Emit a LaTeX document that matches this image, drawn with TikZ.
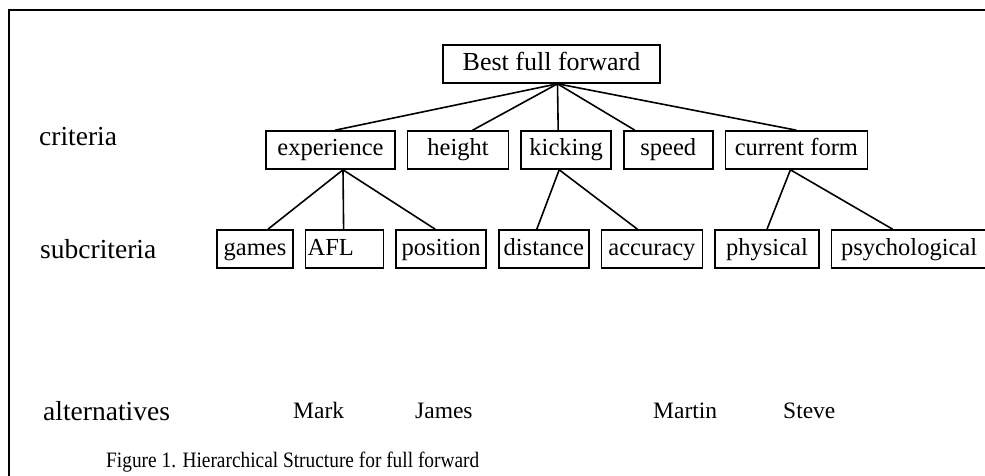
\documentclass[tikz,border=0pt]{standalone}
\usepackage{fontspec}
\setmainfont{Liberation Serif}
\newfontfamily\capfont[FakeStretch=0.88]{Liberation Serif}
\usetikzlibrary{positioning}
\tikzset{
  goalnode/.style={
    draw, line width=1.6pt, minimum height=38pt, inner sep=2pt,
    text height=19pt, text depth=6pt,
    font=\fontsize{26}{30}\selectfont
  },
  critnode/.style={
    draw, line width=1.6pt, minimum height=38pt, inner sep=2pt,
    text height=18pt, text depth=6pt,
    font=\fontsize{24.5}{28}\selectfont
  },
  treeline/.style={line width=1.6pt},
  levellabel/.style={anchor=base west, inner sep=0pt, font=\fontsize{27.5}{32}\selectfont},
  altlabel/.style={anchor=base west, inner sep=0pt, font=\fontsize{23.5}{28}\selectfont},
  figcaption/.style={anchor=base west, inner sep=0pt, font=\capfont\fontsize{22}{26}\selectfont}
}

\begin{document}
\begin{tikzpicture}[x=1pt, y=-1pt, node distance=11pt]
  \useasboundingbox (0,0) rectangle (985,476);
  % frame
  \draw[line width=2.2pt] (985,10) -- (9,10) -- (9,476);

  % goal
  \node[goalnode, minimum width=217pt] (goal) at (551.5,64) {Best full forward};

  % criteria
  \node[critnode, minimum width=129pt] (experience) at (330.5,150) {experience};
  \node[critnode, minimum width=101pt, right=of experience] (height) {height};
  \node[critnode, minimum width=90pt, right=of height] (kicking) {kicking};
  \node[critnode, minimum width=89pt, right=of kicking] (speed) {speed};
  \node[critnode, minimum width=142pt, right=of speed] (form) {current form};

  % subcriteria
  \node[critnode, minimum width=76pt] (games) at (255,249) {games};
  \node[critnode, text width=74pt, align=left, right=of games] (afl) {AFL};
  \node[critnode, minimum width=90pt, right=of afl] (position) {position};
  \node[critnode, minimum width=90pt, right=of position] (distance) {distance};
  \node[critnode, minimum width=101pt, right=of distance] (accuracy) {accuracy};
  \node[critnode, minimum width=104pt, right=of accuracy] (physical) {physical};
  \node[critnode, minimum width=155pt, right=of physical] (psych) {psychological};

  \draw[treeline] ([xshift=6pt]goal.south) -- ([xshift=4.5pt]experience.north);
  \draw[treeline] ([xshift=6pt]goal.south) -- ([xshift=14.5pt]height.north);
  \draw[treeline] ([xshift=6pt]goal.south) -- ([xshift=-8pt]kicking.north);
  \draw[treeline] ([xshift=6pt]goal.south) -- ([xshift=-33.5pt]speed.north);
  \draw[treeline] ([xshift=6pt]goal.south) -- (form.north);

  \draw[treeline] ([xshift=12.5pt]experience.south) -- ([xshift=13pt]games.north);
  \draw[treeline] ([xshift=12.5pt]experience.south) -- ([xshift=-1pt]afl.north);
  \draw[treeline] ([xshift=12.5pt]experience.south) -- ([xshift=-6pt]position.north);
  \draw[treeline] ([xshift=-7pt]kicking.south) -- ([xshift=-7pt]distance.north);
  \draw[treeline] ([xshift=-7pt]kicking.south) -- ([xshift=-14.5pt]accuracy.north);
  \draw[treeline] ([xshift=-6pt]form.south) -- (physical.north);
  \draw[treeline] ([xshift=-6pt]form.south) -- ([xshift=-16.5pt]psych.north);

  % level labels
  \node[levellabel] (lcrit) at (39,146) {criteria};
  \node[levellabel] (lsub) at (40,258) {subcriteria};
  \node[levellabel] (lalt) at (43,420) {alternatives};

  % alternatives
  \node[altlabel] (mark) at (293,418) {Mark};
  \node[altlabel] (james) at (415,418) {James};
  \node[altlabel] (martin) at (653,418) {Martin};
  \node[altlabel] (steve) at (783,418) {Steve};

  \node[figcaption] (caption) at (106,467) {Figure 1. Hierarchical Structure for full forward};
\end{tikzpicture}
\end{document}
